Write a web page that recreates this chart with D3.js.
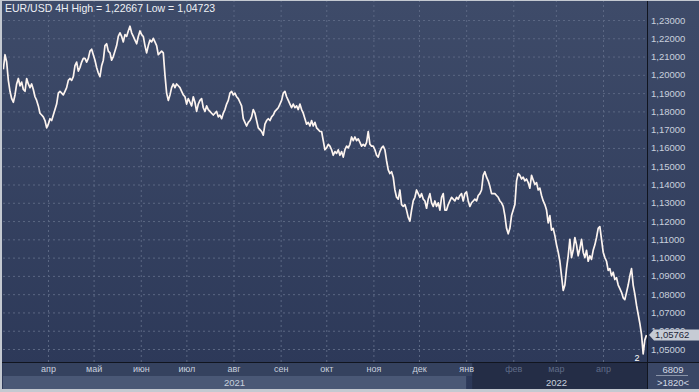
<!DOCTYPE html>
<html>
<head>
<meta charset="utf-8">
<script src="https://cdn.jsdelivr.net/npm/d3@7"></script>
<style>
  html, body { margin: 0; padding: 0; background: #c4c9d1; }
  svg { display: block; font-family: "Liberation Sans", Arial, sans-serif; }
</style>
</head>
<body>
<div id="chart"></div>
<script>
// Chart data
const title = "EUR/USD 4H High = 1,22667 Low = 1,04723";
const startDate = new Date(2021, 2, 2, 15);  // first sample
const stepHours = 26.3;                        // spacing between samples

const marMay = [
  1.203, 1.211, 1.207, 1.197, 1.191, 1.187, 1.185, 1.189, 1.195, 1.198,
  1.194, 1.196, 1.192, 1.191, 1.198, 1.195, 1.193, 1.195, 1.192, 1.188,
  1.186, 1.183, 1.179, 1.178, 1.177, 1.175, 1.171, 1.173, 1.176, 1.175,
  1.178, 1.181, 1.184, 1.190, 1.191, 1.190, 1.189, 1.191, 1.193, 1.197,
  1.198, 1.197, 1.199, 1.205, 1.207, 1.202, 1.204, 1.207, 1.209, 1.209,
  1.207, 1.209, 1.213, 1.214, 1.211, 1.208, 1.204, 1.201, 1.199, 1.205,
  1.208, 1.216, 1.217, 1.213, 1.212
];
const mayJul = [
  1.208, 1.210, 1.213, 1.216, 1.221, 1.223, 1.221, 1.218, 1.222, 1.221,
  1.224, 1.2266, 1.223, 1.221, 1.219, 1.217, 1.221, 1.224, 1.222, 1.221,
  1.216, 1.212, 1.216, 1.219, 1.218, 1.220, 1.218, 1.216, 1.211, 1.212,
  1.213, 1.212, 1.200, 1.190, 1.186, 1.189, 1.193, 1.195, 1.193, 1.195,
  1.194, 1.193, 1.191, 1.189, 1.188, 1.184, 1.187, 1.185, 1.183, 1.188,
  1.185, 1.180, 1.184, 1.186, 1.187, 1.182, 1.180, 1.183, 1.181, 1.180,
  1.179, 1.178, 1.179
];
const julSep = [
  1.180, 1.177, 1.178, 1.176, 1.179, 1.181, 1.184, 1.186, 1.190, 1.191,
  1.189, 1.190, 1.188, 1.187, 1.185, 1.183, 1.176, 1.174, 1.172, 1.174,
  1.175, 1.177, 1.181, 1.179, 1.175, 1.171, 1.170, 1.169, 1.167, 1.173,
  1.175, 1.176, 1.175, 1.177, 1.178, 1.180, 1.181, 1.182, 1.184, 1.186,
  1.190, 1.191, 1.188, 1.186, 1.184, 1.182, 1.184, 1.182, 1.183, 1.181,
  1.184, 1.181, 1.179, 1.176, 1.173, 1.174, 1.172, 1.175, 1.172, 1.174,
  1.171, 1.170, 1.169
];
const sepDec = [
  1.169, 1.164, 1.159, 1.160, 1.162, 1.161, 1.159, 1.156, 1.158, 1.157,
  1.159, 1.156, 1.158, 1.155, 1.159, 1.161, 1.160, 1.162, 1.166, 1.164,
  1.166, 1.164, 1.165, 1.163, 1.161, 1.162, 1.161, 1.163, 1.169, 1.162,
  1.161, 1.161, 1.159, 1.156, 1.155, 1.158, 1.160, 1.161, 1.159, 1.153,
  1.148, 1.146, 1.147, 1.144, 1.137, 1.133, 1.132, 1.137, 1.129, 1.128,
  1.129, 1.126, 1.122, 1.120, 1.126, 1.131, 1.133, 1.137, 1.135, 1.133,
  1.135, 1.132, 1.131
];
const decFeb = [
  1.127, 1.132, 1.135, 1.130, 1.128, 1.131, 1.128, 1.130, 1.126, 1.133,
  1.135, 1.126, 1.126, 1.129, 1.131, 1.133, 1.132, 1.131, 1.133, 1.132,
  1.134, 1.135, 1.131, 1.135, 1.136, 1.131, 1.128, 1.130, 1.131, 1.132,
  1.131, 1.134, 1.135, 1.137, 1.145, 1.147, 1.144, 1.142, 1.139, 1.135,
  1.135, 1.135, 1.134, 1.133, 1.131, 1.130, 1.128, 1.123, 1.116, 1.113,
  1.116, 1.123, 1.126, 1.129, 1.142, 1.146, 1.145, 1.143, 1.144, 1.142,
  1.143, 1.141, 1.138
];
const febApr = [
  1.145, 1.1425, 1.140, 1.141, 1.137, 1.138, 1.134, 1.131, 1.129, 1.126,
  1.119, 1.123, 1.115, 1.116, 1.112, 1.107, 1.103, 1.098, 1.090, 1.082,
  1.085, 1.094, 1.101, 1.110, 1.100, 1.104, 1.111, 1.107, 1.101, 1.105,
  1.110, 1.103, 1.100, 1.104, 1.098, 1.101, 1.099, 1.104, 1.107, 1.111,
  1.116, 1.117, 1.110, 1.103, 1.100, 1.098, 1.093, 1.094, 1.090, 1.092,
  1.088, 1.089, 1.085, 1.083, 1.081, 1.078, 1.077, 1.081, 1.085, 1.090,
  1.094, 1.085, 1.080, 1.074, 1.069, 1.064, 1.058, 1.0473, 1.055, 1.0576
];

const priceTicks = [1.05, 1.06, 1.07, 1.08, 1.09, 1.10, 1.11, 1.12, 1.13,
  1.14, 1.15, 1.16, 1.17, 1.18, 1.19, 1.20, 1.21, 1.22, 1.23];
const monthNames = ["янв", "фев", "мар", "апр", "май", "июн",
  "июл", "авг", "сен", "окт", "ноя", "дек"];
const years = [2021, 2022];
const lastPrice = 1.05762;
const lastLabel = "1,05762";
const barsInfo = "6809", zoomInfo = ">1820<", scaleInfo = "2";
const shadedFrom = new Date(2022, 0, 5);   // start of the darker navigator strip

// Layout
const W = 699, H = 392;
const plot = { left: 3, right: 647, top: 1, bottom: 362 };

const values = [].concat(marMay, mayJul, julSep, sepDec, decFeb, febApr);
const data = values.map((v, i) => ({
  date: new Date(startDate.getTime() + i * stepHours * 3600 * 1000),
  value: v
}));

const x = d3.scaleTime()
  .domain([new Date(2021, 3, 1), new Date(2022, 3, 1)])
  .range([48, 603]);
const y = d3.scaleLinear()
  .domain([1.05, 1.23])
  .range([349, 20]);

const ru = d3.formatLocale({ decimal: ",", thousands: " ", grouping: [3], currency: ["", ""] });
const fmt = ru.format(".5f");

const svg = d3.select("#chart")
  .append("svg")
    .attr("width", W)
    .attr("height", H);

const defs = svg.append("defs");
const grad = defs.append("linearGradient")
    .attr("id", "bg").attr("x1", 0).attr("y1", 0).attr("x2", 0).attr("y2", 1);
grad.append("stop").attr("offset", "0%").attr("stop-color", "#3e4b69");
grad.append("stop").attr("offset", "100%").attr("stop-color", "#2c3858");
defs.append("clipPath").attr("id", "clip")
  .append("rect")
    .attr("x", plot.left).attr("y", plot.top)
    .attr("width", plot.right - plot.left).attr("height", plot.bottom - plot.top);

// Frame and panels
svg.append("rect").attr("width", W).attr("height", H).attr("fill", "#c4c9d1");
svg.append("rect")
    .attr("x", 2).attr("y", 1)
    .attr("width", W - 2).attr("height", 388)
    .attr("fill", "url(#bg)");

// Bottom time axis rows
svg.append("rect")
    .attr("x", plot.left).attr("y", plot.bottom)
    .attr("width", plot.right - plot.left).attr("height", 14)
    .attr("fill", "#35425f");
svg.append("rect")
    .attr("x", plot.left).attr("y", plot.bottom + 14)
    .attr("width", x(new Date(2022, 0, 1)) - plot.left).attr("height", 13)
    .attr("fill", "#4a5876");
svg.append("rect")
    .attr("x", x(shadedFrom)).attr("y", plot.bottom)
    .attr("width", plot.right - x(shadedFrom)).attr("height", 27)
    .attr("fill", "#242d46");
svg.append("rect")
    .attr("x", plot.right).attr("y", plot.bottom)
    .attr("width", W - plot.right).attr("height", 27)
    .attr("fill", "#3a4766");

// Grid
const months = d3.timeMonth.range(new Date(2021, 3, 1), new Date(2022, 4, 1));

svg.append("g")
    .attr("transform", `translate(0,${plot.bottom})`)
    .call(d3.axisBottom(x).tickValues(months).tickSize(-(plot.bottom - plot.top)).tickFormat(""))
    .call(g => g.select(".domain").remove())
    .call(g => g.selectAll("line")
      .attr("stroke", "#5b6783")
      .attr("stroke-dasharray", "2,3"));

svg.append("g")
    .attr("transform", `translate(${plot.left},0)`)
    .call(d3.axisLeft(y).tickValues(priceTicks).tickSize(-(plot.right - plot.left)).tickFormat(""))
    .call(g => g.select(".domain").remove())
    .call(g => g.selectAll("line")
      .attr("stroke", "#5b6783")
      .attr("stroke-dasharray", "2,3"));

// Price line
const line = d3.line()
  .x(d => x(d.date))
  .y(d => y(d.value));

svg.append("path")
    .datum(data)
    .attr("clip-path", "url(#clip)")
    .attr("fill", "none")
    .attr("stroke", "#fdf4ef")
    .attr("stroke-width", 1.7)
    .attr("stroke-linejoin", "round")
    .attr("d", line);

// Separator lines
svg.append("line")
    .attr("x1", 2).attr("x2", W)
    .attr("y1", plot.bottom + 0.5).attr("y2", plot.bottom + 0.5)
    .attr("stroke", "#11151f");
svg.append("line")
    .attr("x1", plot.right + 0.5).attr("x2", plot.right + 0.5)
    .attr("y1", 1).attr("y2", 389)
    .attr("stroke", "#11151f");

// Right price axis (the last-price tag sits over 1,06000, as in the original)
svg.append("g")
    .attr("transform", `translate(${plot.right},0)`)
    .call(d3.axisRight(y).tickValues(priceTicks).tickSize(0).tickPadding(4).tickFormat(fmt))
    .call(g => g.select(".domain").remove())
    .call(g => g.selectAll("text")
      .attr("fill", "#c9d0dd")
      .style("font-size", "9.5px")
      .style("font-family", "Liberation Sans, Arial, sans-serif"));

// Last price tag
const ty = y(lastPrice);
svg.append("path")
    .attr("d", `M${plot.right + 2},${ty} L${plot.right + 7},${ty - 5.5} L${W},${ty - 5.5} L${W},${ty + 5.5} L${plot.right + 7},${ty + 5.5} Z`)
    .attr("fill", "#c6cbd4");
svg.append("text")
    .attr("x", plot.right + 8)
    .attr("y", ty)
    .attr("dy", "0.35em")
    .attr("fill", "#1d2538")
    .style("font-size", "9.5px")
    .text(lastLabel);

// Bottom month labels
svg.append("g")
    .attr("transform", `translate(0,${plot.bottom})`)
    .call(d3.axisBottom(x).tickValues(months).tickSize(0).tickPadding(4)
      .tickFormat(d => monthNames[d.getMonth()]))
    .call(g => g.select(".domain").remove())
    .call(g => g.selectAll("text")
      .attr("fill", d => d >= shadedFrom ? "#5f6b87" : "#c8d0de")
      .style("font-size", "9px")
      .style("font-family", "Liberation Sans, Arial, sans-serif"));

// Year labels centred on the visible part of each year
svg.append("g")
  .selectAll("text")
  .data(years)
  .enter()
  .append("text")
    .attr("x", d => (Math.max(plot.left, x(new Date(d, 0, 1))) + Math.min(plot.right, x(new Date(d + 1, 0, 1)))) / 2)
    .attr("y", plot.bottom + 24)
    .attr("text-anchor", "middle")
    .attr("fill", d => new Date(d, 0, 1) >= shadedFrom ? "#5f6b87" : "#c8d0de")
    .style("font-size", "9.5px")
    .text(d => d);

// Right-bottom info box
svg.append("text")
    .attr("x", 673).attr("y", plot.bottom + 11)
    .attr("text-anchor", "middle")
    .attr("fill", "#d3d9e4")
    .style("font-size", "9.5px")
    .text(barsInfo);
svg.append("line")
    .attr("x1", 656).attr("x2", 688)
    .attr("y1", plot.bottom + 13.5).attr("y2", plot.bottom + 13.5)
    .attr("stroke", "#8a94a8");
svg.append("text")
    .attr("x", 673).attr("y", plot.bottom + 24)
    .attr("text-anchor", "middle")
    .attr("fill", "#d3d9e4")
    .style("font-size", "9.5px")
    .text(zoomInfo);

// Small marker in the plot corner
svg.append("text")
    .attr("x", 637).attr("y", plot.bottom - 1)
    .attr("text-anchor", "middle")
    .attr("fill", "#ffffff")
    .style("font-size", "9px")
    .text(scaleInfo);

// Title
svg.append("text")
    .attr("x", 5)
    .attr("y", 12)
    .attr("fill", "#eef1f6")
    .style("font-size", "10.5px")
    .text(title);
</script>
</body>
</html>
